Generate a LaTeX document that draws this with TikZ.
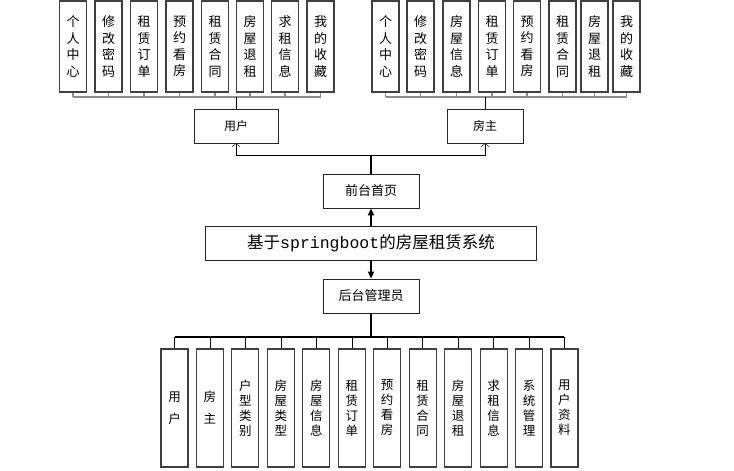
\documentclass[tikz,border=0pt]{standalone}
\usepackage{fontspec}
\setmainfont{Noto Sans CJK SC}
\newfontfamily\monofont{Liberation Mono}
\usetikzlibrary{arrows.meta}

\begin{document}
\begin{tikzpicture}[x=1pt, y=-1pt,
    item/.style={draw=black!75, line width=1.1pt, minimum width=27pt, inner sep=0pt, align=center},
    topitem/.style={item, minimum height=91pt, font=\fontsize{13}{16.5}\selectfont},
    lowitem/.style={item, minimum height=118pt, font=\fontsize{12.5}{15}\selectfont},
    role/.style={draw=black!85, line width=0.8pt, inner sep=0pt, minimum height=34pt},
    greylink/.style={black!45, line width=1.2pt},
    boldlink/.style={line width=1.6pt}]

\useasboundingbox (0,0) rectangle (734,471);

% middle column
\node[role, minimum width=96pt, font=\fontsize{13}{13}\selectfont] (qiantai) at (371,191) {前台首页};
\node[role, minimum width=331pt, font=\fontsize{16.5}{16.5}\selectfont] (xitong) at (371,243)
    {基于{\monofont springboot}的房屋租赁系统};
\node[role, minimum width=96pt, font=\fontsize{13}{13}\selectfont] (houtai) at (371,296) {后台管理员};

\draw[boldlink, -{Triangle[length=7pt,width=6pt]}] (xitong.north) -- (qiantai.south);
\draw[boldlink, -{Triangle[length=7pt,width=6pt]}] (xitong.south) -- (houtai.north);

% front side
\node[role, minimum width=84pt, font=\fontsize{12}{12}\selectfont] (yonghu) at (236,126) {用户};
\node[role, minimum width=76pt, font=\fontsize{12}{12}\selectfont] (fangzhu) at (485,126) {房主};

\coordinate (fork) at (371,155);
\draw[boldlink] (qiantai.north) -- (fork);
\draw[-{Straight Barb[length=3pt,width=8pt]}] (fork) -| (yonghu.south);
\draw[-{Straight Barb[length=3pt,width=8pt]}] (fork) -| (fangzhu.south);

\coordinate (ubus) at (0,97);

\foreach \x/\t [count=\i] in {73/{个\\人\\中\\心}, 108.5/{修\\改\\密\\码}, 144/{租\\赁\\订\\单},
        179.5/{预\\约\\看\\房}, 215/{租\\赁\\合\\同}, 250/{房\\屋\\退\\租},
        285/{求\\租\\信\\息}, 320.5/{我\\的\\收\\藏}}
{
    \node[topitem] (ul\i) at (\x,46.5) {\t};
    \draw[greylink] (ul\i.south) -- (ul\i.south |- ubus);
}
\draw[greylink] (ul1.south |- ubus) -- (ul8.south |- ubus);
\draw (yonghu.north) -- (yonghu.north |- ubus);

\foreach \x/\t [count=\i] in {385.5/{个\\人\\中\\心}, 420.5/{修\\改\\密\\码}, 456.5/{房\\屋\\信\\息},
        492/{租\\赁\\订\\单}, 527/{预\\约\\看\\房}, 562.5/{租\\赁\\合\\同},
        594.5/{房\\屋\\退\\租}, 626.5/{我\\的\\收\\藏}}
{
    \node[topitem] (ur\i) at (\x,46.5) {\t};
    \draw[greylink] (ur\i.south) -- (ur\i.south |- ubus);
}
\draw[greylink] (ur1.south |- ubus) -- (ur8.south |- ubus);
\draw (fangzhu.north) -- (fangzhu.north |- ubus);

% back side
\coordinate (lbus) at (0,337);
\draw[boldlink] (houtai.south) -- (houtai.south |- lbus);

\foreach \t [count=\i] in {{用\\[7pt]户}, {房\\[7pt]主}, {户\\型\\类\\别}, {房\\屋\\类\\型},
        {房\\屋\\信\\息}, {租\\赁\\订\\单}, {预\\约\\看\\房}, {租\\赁\\合\\同},
        {房\\屋\\退\\租}, {求\\租\\信\\息}, {系\\统\\管\\理}, {用\\户\\资\\料}}
{
    \node[lowitem] (ll\i) at ({174.5+35.45*(\i-1)},408) {\t};
    \draw (ll\i.north) -- (ll\i.north |- lbus);
}
\draw[line width=1.4pt] (ll1.north |- lbus) -- (ll12.north |- lbus);

\end{tikzpicture}
\end{document}
